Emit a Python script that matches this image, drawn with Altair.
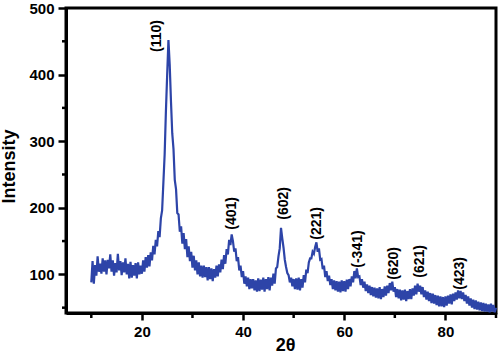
import altair as alt
import pandas as pd

start_deg = 10
step = 0.25
intensity = [
    88, 120, 86, 114,      # 10
    98, 127, 104, 116,     # 11
    101, 124, 104, 121,    # 12
    100, 122, 109, 130,    # 13
    104, 121, 98, 117,     # 14
    103, 131, 106, 120,    # 15
    99, 118, 103, 124,     # 16
    100, 116, 94, 119,     # 17
    95, 114, 98, 117,      # 18
    94, 118, 100, 113,     # 19
    101, 121, 104, 126,    # 20
    110, 129, 112, 133,    # 21
    121, 143, 130, 152,    # 22
    142, 165, 156, 184,    # 23
    196, 238, 280, 345,    # 24
    400, 452, 415, 360,    # 25
    312, 288, 242, 228,    # 26
    192, 190, 164, 172,    # 27
    146, 162, 138, 153,    # 28
    126, 142, 120, 134,    # 29
    110, 128, 106, 121,    # 30
    100, 118, 97, 113,     # 31
    95, 113, 96, 111,      # 32
    91, 111, 93, 109,      # 33
    90, 108, 95, 113,      # 34
    97, 115, 103, 122,     # 35
    108, 129, 116, 138,    # 36
    130, 152, 144, 160,    # 37
    150, 134, 139, 120,    # 38
    126, 106, 113, 96,     # 39
    105, 86, 97, 82,       # 40
    95, 78, 93, 79,        # 41
    93, 76, 91, 74,        # 42
    94, 75, 92, 77,        # 43
    95, 74, 93, 78,        # 44
    96, 76, 95, 83,        # 45
    101, 86, 109, 111,     # 46
    127, 139, 170, 154,    # 47
    140, 122, 111, 102,    # 48
    99, 88, 95, 82,        # 49
    93, 78, 94, 77,        # 50
    95, 76, 93, 80,        # 51
    99, 88, 107, 102,      # 52
    118, 124, 124, 134,    # 53
    131, 141, 148, 134,    # 54
    139, 122, 123, 108,    # 55
    113, 96, 105, 90,      # 56
    98, 84, 93, 78,        # 57
    91, 76, 90, 74,        # 58
    89, 73, 91, 75,        # 59
    90, 74, 92, 78,        # 60
    93, 82, 97, 88,        # 61
    105, 94, 109, 96,      # 62
    97, 84, 93, 80,        # 63
    89, 75, 85, 72,        # 64
    83, 69, 81, 67,        # 65
    80, 65, 79, 64,        # 66
    81, 63, 78, 66,        # 67
    82, 68, 83, 72,        # 68
    87, 76, 89, 74,        # 69
    81, 66, 78, 64,        # 70
    77, 61, 76, 62,        # 71
    77, 60, 75, 63,        # 72
    78, 63, 79, 68,        # 73
    83, 70, 86, 74,        # 74
    83, 70, 81, 66,        # 75
    76, 62, 74, 60,        # 76
    72, 57, 71, 56,        # 77
    69, 54, 68, 52,        # 78
    67, 52, 66, 51,        # 79
    67, 53, 68, 56,        # 80
    70, 55, 71, 60,        # 81
    73, 62, 76, 64,        # 82
    75, 63, 73, 60,        # 83
    69, 56, 67, 53,        # 84
    64, 50, 62, 48,        # 85
    61, 47, 59, 46,        # 86
    58, 45, 57, 44,        # 87
    56, 44, 55, 43,        # 88
    56, 44, 54, 43,        # 89
    50,                    # 90
]
two_theta = [start_deg + i * step for i in range(len(intensity))]

peak_labels = ["(110)", "(401)", "(602)", "(221)", "(-341)", "(620)", "(621)", "(423)"]
label_x = [23.0, 37.9, 48.0, 54.7, 62.8, 69.9, 74.9, 82.8]
label_y = [434, 167, 182, 152, 110, 92, 95, 77]

y_major = [100, 200, 300, 400, 500]
y_minor = [50, 150, 250, 350, 450]
x_major = [20, 40, 60, 80]
x_minor = [10, 30, 50, 70, 90]

df = pd.DataFrame({"x": two_theta, "y": intensity})
lab = pd.DataFrame({"x": label_x, "y": label_y, "t": peak_labels})
ymin_df = pd.DataFrame({"y": y_minor})
xmin_df = pd.DataFrame({"x": x_minor})

FONT = "Liberation Sans"
PLOT_H = 305

x_scale = alt.Scale(domain=[5, 90], nice=False, zero=False)
y_scale = alt.Scale(domain=[42, 500], nice=False, zero=False)

x_axis = alt.Axis(
    values=x_major, tickSize=7, tickWidth=2.5, tickColor="black",
    domainWidth=3, domainColor="black",
    labelFont=FONT, labelFontWeight="bold", labelFontSize=15, labelColor="black",
    labelPadding=4, labelOverlap=False, labelFlush=False, grid=False,
    title="2θ", titleFont=FONT, titleFontWeight="bold", titleFontSize=18,
    titleColor="black", titleX=219, titleY=37, titleBaseline="alphabetic",
    titleAlign="center",
)
y_axis = alt.Axis(
    values=y_major, tickSize=8, tickWidth=2.5, tickColor="black",
    domainWidth=3, domainColor="black",
    labelFont=FONT, labelFontWeight="bold", labelFontSize=15, labelColor="black",
    labelPadding=4, labelOverlap=False, labelFlush=False, grid=False,
    title="Intensity", titleFont=FONT, titleFontWeight="bold", titleFontSize=18,
    titleColor="black", titleX=-57, titleY=158, titleAngle=270,
    titleBaseline="middle", titleAlign="center",
)

line = alt.Chart(df).mark_line(color="#2d44a8", strokeWidth=2.2).encode(
    x=alt.X("x:Q", scale=x_scale, axis=x_axis),
    y=alt.Y("y:Q", scale=y_scale, axis=y_axis),
)

text = alt.Chart(lab).mark_text(
    angle=270, align="left", baseline="middle",
    font=FONT, fontWeight="bold", fontSize=14, color="black",
).encode(
    x=alt.X("x:Q"),
    y=alt.Y("y:Q"),
    text="t:N",
)

# minor ticks (shorter, unlabeled)
y_minor_ticks = alt.Chart(ymin_df).mark_rule(color="black", strokeWidth=2.5).encode(
    y=alt.Y("y:Q"),
    x=alt.value(-4), x2=alt.value(0),
)
x_minor_ticks = alt.Chart(xmin_df).mark_rule(color="black", strokeWidth=2.5).encode(
    x=alt.X("x:Q"),
    y=alt.value(PLOT_H), y2=alt.value(PLOT_H + 5),
)

chart = alt.layer(line, text, y_minor_ticks, x_minor_ticks).properties(
    width=430, height=PLOT_H,
    padding={"left": 66, "top": 8, "right": 4, "bottom": 41},
    autosize="none",
).configure_view(stroke="black", strokeWidth=3)

chart.save("out.html", embed_options={"renderer": "svg", "actions": False})
